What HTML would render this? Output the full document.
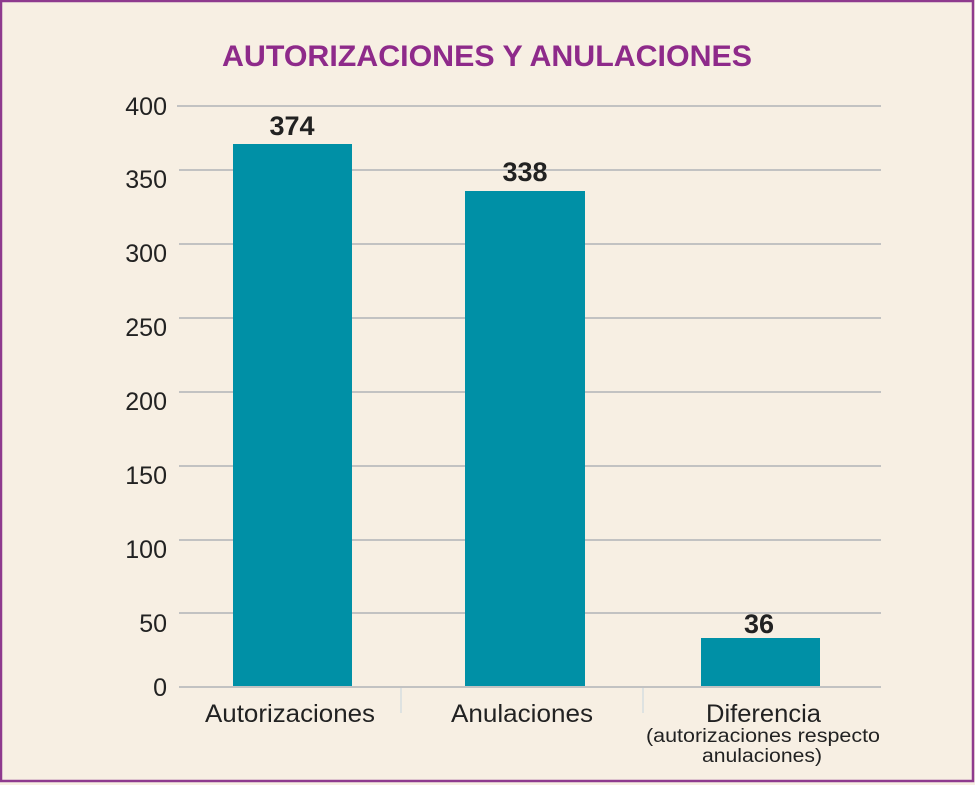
<!DOCTYPE html>
<html><head><style>
html,body{margin:0;padding:0;background:#f7efe3;}
svg{display:block;font-family:"Liberation Sans",Arial,sans-serif;}
</style></head><body>
<svg width="975" height="785" viewBox="0 0 975 785" xmlns="http://www.w3.org/2000/svg">
<rect x="0" y="0" width="975" height="785" fill="#f7efe3"/>
<rect x="1" y="1" width="972" height="780" fill="none" stroke="#8e3a8e" stroke-width="2.5"/>
<text x="222" y="66" textLength="530" lengthAdjust="spacingAndGlyphs" font-size="30" font-weight="bold" fill="#8e2a8a">AUTORIZACIONES Y ANULACIONES</text>
<g stroke="#c2c2c2" stroke-width="2">
<line x1="177" y1="106" x2="881" y2="106"/>
<line x1="179" y1="170" x2="881" y2="170"/>
<line x1="179" y1="244" x2="881" y2="244"/>
<line x1="179" y1="318" x2="881" y2="318"/>
<line x1="179" y1="392" x2="881" y2="392"/>
<line x1="179" y1="466" x2="881" y2="466"/>
<line x1="179" y1="540" x2="881" y2="540"/>
<line x1="179" y1="613" x2="881" y2="613"/>
</g>
<g fill="#0090a6">
<rect x="233" y="144" width="119" height="543"/>
<rect x="465" y="191" width="120" height="496"/>
<rect x="701" y="638" width="119" height="49"/>
</g>
<line x1="179" y1="687" x2="881" y2="687" stroke="#c2c2c2" stroke-width="2"/>
<g stroke="#d6dde0" stroke-width="1.5">
<line x1="401" y1="688" x2="401" y2="713"/>
<line x1="643" y1="688" x2="643" y2="713"/>
</g>
<g font-size="25" fill="#222" text-anchor="end">
<text x="167" y="115">400</text>
<text x="167" y="188">350</text>
<text x="167" y="262">300</text>
<text x="167" y="336">250</text>
<text x="167" y="410">200</text>
<text x="167" y="484">150</text>
<text x="167" y="558">100</text>
<text x="167" y="632">50</text>
<text x="167" y="696">0</text>
</g>
<g font-size="27" font-weight="bold" fill="#222" text-anchor="middle">
<text x="292" y="135">374</text>
<text x="525" y="181">338</text>
<text x="759" y="633">36</text>
</g>
<g font-size="25" fill="#222">
<text x="205" y="722" textLength="170" lengthAdjust="spacingAndGlyphs">Autorizaciones</text>
<text x="451" y="722" textLength="142" lengthAdjust="spacingAndGlyphs">Anulaciones</text>
<text x="706" y="722" textLength="115" lengthAdjust="spacingAndGlyphs">Diferencia</text>
</g>
<g font-size="19" fill="#222">
<text x="646" y="742" textLength="234" lengthAdjust="spacingAndGlyphs">(autorizaciones respecto</text>
<text x="702" y="762" textLength="120" lengthAdjust="spacingAndGlyphs">anulaciones)</text>
</g>
</svg>
</body></html>
